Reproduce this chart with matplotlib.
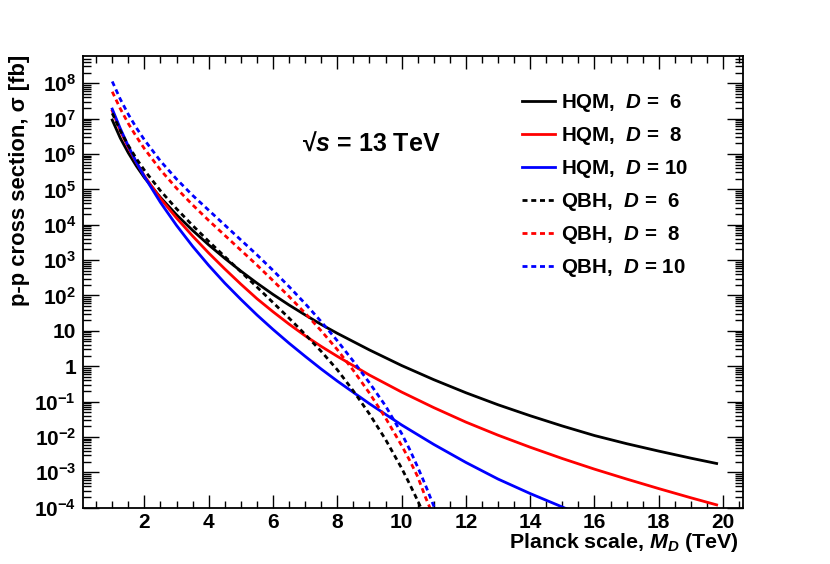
import numpy as np
import matplotlib
matplotlib.use('Agg')
import matplotlib.pyplot as plt
from matplotlib.ticker import FixedLocator, FuncFormatter, MultipleLocator, LogLocator, NullFormatter

plt.rcParams['font.family'] = ['Liberation Sans', 'DejaVu Sans']
plt.rcParams['mathtext.fontset'] = 'custom'
plt.rcParams['mathtext.rm'] = 'Liberation Sans:bold'
plt.rcParams['mathtext.bf'] = 'Liberation Sans:bold'
plt.rcParams['mathtext.it'] = 'Liberation Sans:italic:bold'

# Planck scale M_D (TeV) and log10(sigma / fb)
md_hqm = [1.0, 1.25, 1.5, 1.75, 2.0, 2.5, 3.0, 3.5, 4.0, 4.5, 5.0, 5.5, 6.0, 6.5,
          7.0, 7.5, 8.0, 9.0, 10.0, 11.0, 12.0, 13.0, 14.0, 15.0, 16.0, 17.0,
          18.0, 19.0, 19.8]
hqm_d6 = [6.96, 6.45, 6.03, 5.66, 5.33, 4.77, 4.28, 3.84, 3.43, 3.05, 2.69, 2.35,
          2.03, 1.73, 1.45, 1.18, 0.93, 0.46, 0.02, -0.38, -0.75, -1.09, -1.40,
          -1.69, -1.96, -2.19, -2.40, -2.60, -2.75]
hqm_d8 = [7.22, 6.66, 6.18, 5.76, 5.38, 4.74, 4.19, 3.68, 3.20, 2.75, 2.32, 1.91,
          1.54, 1.19, 0.86, 0.56, 0.28, -0.25, -0.73, -1.17, -1.58, -1.95, -2.29,
          -2.61, -2.91, -3.19, -3.46, -3.72, -3.92]

md_hqm10 = [1.0, 1.25, 1.5, 1.75, 2.0, 2.5, 3.0, 3.5, 4.0, 4.5, 5.0, 5.5, 6.0, 6.5,
            7.0, 7.5, 8.0, 9.0, 10.0, 11.0, 12.0, 13.0, 14.0, 15.0, 15.2]
hqm_d10 = [7.27, 6.72, 6.22, 5.77, 5.36, 4.63, 3.98, 3.39, 2.85, 2.35, 1.89, 1.45,
           1.04, 0.65, 0.28, -0.08, -0.42, -1.06, -1.66, -2.21, -2.72, -3.19,
           -3.60, -3.98, -4.06]

md_qbh = [1.0, 1.25, 1.5, 1.75, 2.0, 2.5, 3.0, 3.5, 4.0, 4.5, 5.0, 5.5, 6.0, 6.5,
          7.0, 7.5, 8.0, 8.5, 9.0, 9.5, 10.0, 10.25, 10.5]
qbh_d6 = [7.15, 6.66, 6.24, 5.87, 5.54, 4.96, 4.45, 3.98, 3.53, 3.10, 2.67, 2.24,
          1.80, 1.36, 0.90, 0.42, -0.10, -0.70, -1.35, -2.07, -2.88, -3.33, -3.80]
qbh_d6_tail = ([10.65], [-4.10])
qbh_d8 = [7.76, 7.28, 6.86, 6.49, 6.15, 5.55, 5.03, 4.56, 4.12, 3.70, 3.28, 2.86,
          2.42, 1.97, 1.50, 1.00, 0.47, -0.12, -0.76, -1.46, -2.24, -2.66, -3.12]
qbh_d8_tail = ([10.75, 10.95], [-3.72, -4.15])
qbh_d10 = [8.05, 7.55, 7.12, 6.74, 6.40, 5.80, 5.29, 4.83, 4.41, 3.99, 3.57, 3.15,
           2.71, 2.25, 1.77, 1.26, 0.72, 0.14, -0.47, -1.12, -1.90, -2.35, -2.85]
qbh_d10_tail = ([10.75, 11.0, 11.1], [-3.38, -3.95, -4.20])

dash = (0, (1.8, 1.35))


def main():
    fig = plt.figure(figsize=(8.3, 5.64), dpi=100)
    ax = fig.add_axes([83 / 830, 1 - 507.7 / 564, 660 / 830, (507.7 - 56) / 564])

    curves = [
        (md_hqm, hqm_d6, 'black', '-', r'HQM,  $D$ =  6'),
        (md_hqm, hqm_d8, 'red', '-', r'HQM,  $D$ =  8'),
        (md_hqm10, hqm_d10, 'blue', '-', r'HQM,  $D$ = 10'),
        (md_qbh + qbh_d6_tail[0], qbh_d6 + qbh_d6_tail[1], 'black', dash, r'QBH,  $D$ =  6'),
        (md_qbh + qbh_d8_tail[0], qbh_d8 + qbh_d8_tail[1], 'red', dash, r'QBH,  $D$ =  8'),
        (md_qbh + qbh_d10_tail[0], qbh_d10 + qbh_d10_tail[1], 'blue', dash, r'QBH,  $D$ = 10'),
    ]
    for x, logy, col, ls, lab in curves:
        ax.plot(x, 10.0 ** np.array(logy), color=col, linestyle=ls, lw=2.0, label=lab)

    ax.set_yscale('log')
    ax.set_xlim(0.09, 20.62)
    ax.set_ylim(1e-4, 10 ** 8.77)

    # x axis
    ax.xaxis.set_minor_locator(MultipleLocator(0.5))
    ax.set_xticks(np.arange(2, 21, 2))
    ax.set_xticklabels([str(v) for v in range(2, 21, 2)])

    # y axis
    ax.yaxis.set_major_locator(FixedLocator([10.0 ** e for e in range(-4, 9)]))
    ax.yaxis.set_minor_locator(LogLocator(base=10, subs=np.arange(2, 10), numticks=30))
    ax.yaxis.set_minor_formatter(NullFormatter())

    def yfmt(v, pos):
        e = int(round(np.log10(v)))
        if e == 0:
            return '1'
        if e == 1:
            return '10'
        return r'$\mathbf{10^{%d}}$' % e
    ax.yaxis.set_major_formatter(FuncFormatter(yfmt))

    ax.tick_params(which='both', direction='in', top=True, right=True, width=1.0)
    ax.tick_params(axis='x', which='major', length=9.4, pad=4, labelsize=15)
    ax.tick_params(axis='x', which='minor', length=4.7)
    ax.tick_params(axis='y', which='major', length=11.5, pad=5, labelsize=15)
    ax.tick_params(axis='y', which='minor', length=6.0)
    for lab in ax.get_xticklabels() + ax.get_yticklabels():
        lab.set_fontweight('bold')
    for sp in ax.spines.values():
        sp.set_linewidth(1.3)

    # axis titles
    fig.text(739 / 830, 1 - 548.3 / 564, r'Planck scale, $M_D$ (TeV)',
             ha='right', va='baseline', fontsize=15.4, fontweight='bold')
    fig.text(20 / 830, 1 - 55 / 564, 'p-p cross section, σ [fb]', rotation=90,
             ha='center', va='top', fontsize=15.8, fontweight='bold')

    # energy label
    ax.text(302 / 830, 1 - 151 / 564, '√$s$ = 13 TeV', transform=fig.transFigure,
            ha='left', va='baseline', fontsize=18, fontweight='bold')

    ax.legend(loc='upper left', bbox_to_anchor=(521.7 / 830, 1 - 92.5 / 564),
              bbox_transform=fig.transFigure, frameon=False, borderpad=0,
              borderaxespad=0, handlelength=1.6, handletextpad=0.33,
              labelspacing=0.53, prop={'size': 14.8, 'weight': 'bold'})

    fig.savefig('out.png', dpi=100)


if __name__ == "__main__":
    main()
